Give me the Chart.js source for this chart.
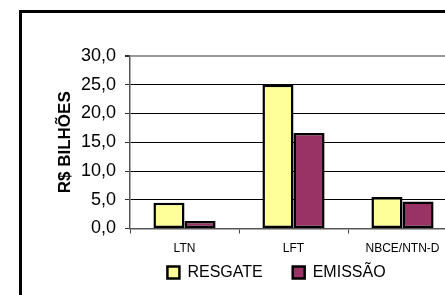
<!DOCTYPE html>
<html>
<head>
<meta charset="utf-8">
<script src="https://cdn.jsdelivr.net/npm/chart.js@4/dist/chart.umd.min.js"></script>
<style>
  html, body { margin: 0; padding: 0; background: #fff; overflow: hidden; }
  body { width: 445px; height: 295px; position: relative; }
  #frame {
    position: absolute; left: 19px; top: 10px; width: 600px; height: 400px;
    border-left: 3px solid #000; border-top: 3px solid #000;
  }
  #c { position: absolute; left: 0; top: 0; }
</style>
</head>
<body>
<div id="frame"></div>
<canvas id="c" width="553" height="295"></canvas>
<script>
const categories = ['LTN', 'LFT', 'NBCE/NTN-D'];
const resgate = [4.5, 25.0, 5.5];
const emissao = [1.3, 16.6, 4.7];
const seriesNames = ['RESGATE', 'EMISSÃO'];
const yMin = 0;
const yMax = 30;
const yStep = 5;

const font = "'Liberation Sans', Arial, sans-serif";

// the legend sits closer to the axis labels than its item spacing allows
const legendLift = {
  id: 'legendLift',
  afterLayout(chart) {
    const lg = chart.legend;
    if (!lg) return;
    lg.top -= 21;
    lg.bottom -= 21;
  },
};

new Chart(document.getElementById('c'), {
  type: 'bar',
  data: {
    labels: categories,
    datasets: [
      { label: seriesNames[0], data: resgate, backgroundColor: '#FFFF99' },
      { label: seriesNames[1], data: emissao, backgroundColor: '#993366' },
    ],
  },
  plugins: [legendLift],
  options: {
    responsive: false,
    animation: false,
    layout: { padding: { top: 56, bottom: -16.5, left: 0, right: 0 } },
    datasets: {
      bar: {
        borderColor: '#000',
        borderWidth: 2.5,
        borderSkipped: false,
        categoryPercentage: 0.57,
        barPercentage: 1,
      },
    },
    plugins: {
      tooltip: { enabled: false },
      legend: {
        position: 'bottom',
        labels: {
          boxWidth: 12,
          boxHeight: 12,
          padding: 30,
          color: '#000',
          font: { family: font, size: 16 },
        },
      },
    },
    scales: {
      x: {
        grid: { drawOnChartArea: false, tickLength: 5, color: '#444' },
        border: { color: '#555', width: 1.5 },
        ticks: { color: '#000', padding: 8, font: { family: font, size: 12 } },
        afterFit(s) { s.height = 27; },
      },
      y: {
        min: yMin,
        max: yMax,
        ticks: {
          stepSize: yStep,
          color: '#000',
          padding: 9,
          font: { family: font, size: 18 },
          callback: (v) => v.toFixed(1).replace('.', ','),
        },
        grid: {
          tickLength: 5,
          color: (ctx) => (ctx.tick && ctx.tick.value === yMax ? '#999' : (ctx.tick && ctx.tick.value === 0 ? '#555' : '#000')),
          lineWidth: (ctx) => (ctx.tick && ctx.tick.value === yMax ? 2 : 1),
          tickColor: '#333',
        },
        border: { color: '#555', width: 1.5 },
        title: {
          display: true,
          text: 'R$ BILHÕES',
          color: '#000',
          padding: { top: 55, bottom: 0 },
          font: { family: font, size: 17, weight: 'bold' },
        },
        afterFit(s) { s.width = 130; },
      },
      y2: {
        position: 'right',
        grid: { display: false },
        ticks: { display: false },
        border: { display: false },
        afterFit(s) { s.width = 96; },
      },
    },
  },
});
</script>
</body>
</html>
